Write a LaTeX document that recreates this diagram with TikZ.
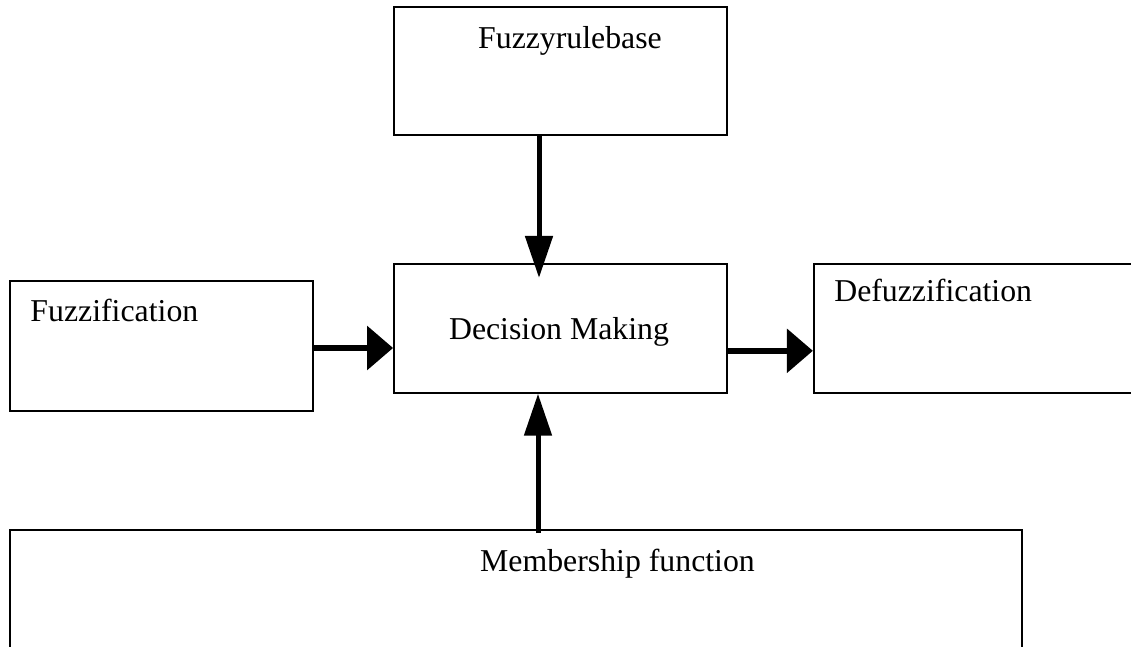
\documentclass[tikz,border=0pt]{standalone}
\usepackage{fontspec}
\setmainfont{Liberation Serif}
\usetikzlibrary{arrows.meta, positioning, calc}
\tikzstyle{block} = [rectangle, draw, line width=0.9pt, inner sep=0pt]
\tikzstyle{tag} = [inner sep=0pt, font=\fontsize{15.9}{19}\selectfont]
\tikzstyle{harrow} = [line width=3pt, -{Triangle[length=13pt, width=21.5pt]}]
\tikzstyle{varrow} = [line width=2.5pt, -{Triangle[length=21pt, width=13.5pt]}]

\begin{document}
\begin{tikzpicture}[x=0.5pt, y=-0.5pt]
    \useasboundingbox (0,0) rectangle (1131,647);
    \clip (0,0) rectangle (1131,647);

    % Rule base box
    \node (rule) [block, minimum width=166.5pt, minimum height=64pt] at (560.5,71) {};
    \node (ruletext) [tag, anchor=base] at ([xshift=4.75pt, yshift=-21pt]rule.north) {Fuzzyrulebase};

    % Decision box
    \node (decision) [block, minimum width=166.5pt, minimum height=64.5pt, below=63.5pt of rule] {};
    \node (decisiontext) [tag, anchor=base] at ([xshift=-0.75pt, yshift=-5.75pt]decision.center) {Decision Making};

    % Fuzzification box
    \node (fuzz) [block, minimum width=151.5pt, minimum height=65pt] at (161.5,346) {};
    \node (fuzztext) [tag, anchor=base west] at ([xshift=10.5pt, yshift=-20.5pt]fuzz.north west) {Fuzzification};

    % Defuzzification box
    \node (defuzz) [block, minimum width=178pt, minimum height=64.5pt, right=42.5pt of decision] {};
    \node (defuzztext) [tag, anchor=base west] at ([xshift=10.5pt, yshift=-19.5pt]defuzz.north west) {Defuzzification};

    % Membership box
    \node (member) [block, minimum width=506pt, minimum height=85pt] at (516,615) {};
    \node (membertext) [tag, anchor=base] at ([xshift=50.75pt, yshift=-21pt]member.north) {Membership function};

    % Arrows
    \draw [varrow] ([xshift=-10.75pt]rule.south) -- ([xshift=-10.75pt, yshift=-7.5pt]decision.north);
    \coordinate (memtop) at ([xshift=11pt, yshift=-2pt]member.north);
    \draw [varrow] (memtop) -- (memtop |- decision.south);
    \coordinate (fzout) at ([yshift=-1pt]fuzz.east);
    \draw [harrow] (fzout) -- (fzout -| decision.west);
    \coordinate (dmout) at ([yshift=-11.25pt]decision.east);
    \draw [harrow] (dmout) -- (dmout -| defuzz.west);
\end{tikzpicture}
\end{document}
